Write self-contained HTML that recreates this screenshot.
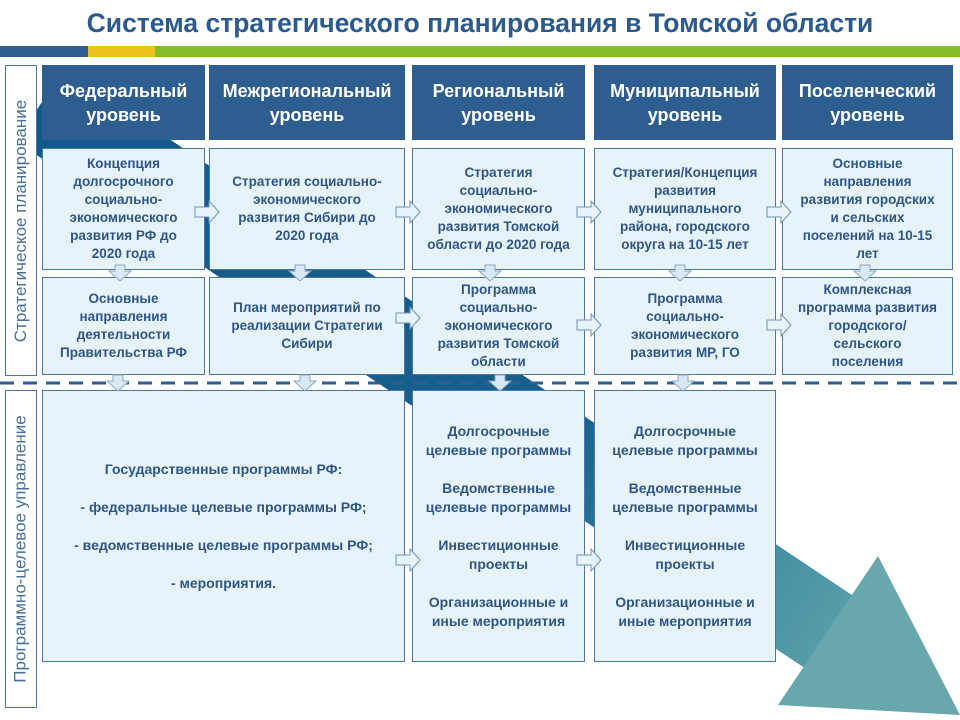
<!DOCTYPE html>
<html><head><meta charset="utf-8"><style>
body{margin:0;width:960px;height:720px;background:#fff;position:relative;overflow:hidden;font-family:"Liberation Sans",sans-serif}
.a{position:absolute;box-sizing:border-box;display:flex;align-items:center;justify-content:center;text-align:center}
.h{background:#2e5d90;color:#fff;font-weight:bold;font-size:18px;line-height:24px}
.b{background:#e6f3fb;border:1px solid #4f77a3;color:#2f5686;font-weight:bold;font-size:13.5px;line-height:18px}
.l{border:1px solid #4f77a3;color:#4a6f99;font-size:17px;background:#fff}
.l span{transform:rotate(-90deg);white-space:nowrap;display:block}
</style></head><body>
<div class="a" style="left:0;top:6px;width:960px;height:34px;color:#2c5a8c;font-weight:bold;font-size:26.5px">Система стратегического планирования в Томской области</div>
<div style="position:absolute;left:0;top:46px;width:88px;height:11px;background:#2e5d90"></div>
<div style="position:absolute;left:88px;top:46px;width:67px;height:11px;background:#ecc21c"></div>
<div style="position:absolute;left:155px;top:46px;width:805px;height:11px;background:#86bc26"></div>
<svg style="position:absolute;left:0;top:0" width="960" height="720">
<defs><linearGradient id="g" gradientUnits="userSpaceOnUse" x1="40" y1="105" x2="960" y2="715"><stop offset="0" stop-color="#0f5a8c"/><stop offset="0.55" stop-color="#185f8c"/><stop offset="0.8" stop-color="#4a94a5"/><stop offset="1" stop-color="#72aeb2"/></linearGradient></defs>
<path d="M40 105 L850 646" stroke="url(#g)" stroke-width="87" fill="none"/>
<polygon points="878,556 960,715 778,705" fill="#68a8ad"/>
<path d="M0 383 H960" stroke="#2e5d90" stroke-width="3" stroke-dasharray="14,9"/>
</svg>
<div class="a l" style="left:5px;top:65px;width:32px;height:311px"><span>Стратегическое планирование</span></div>
<div class="a l" style="left:5px;top:390px;width:32px;height:318px"><span>Программно-целевое управление</span></div>
<div class="a h" style="left:42px;top:65px;width:163px;height:75px">Федеральный<br>уровень</div>
<div class="a h" style="left:209px;top:65px;width:196px;height:75px">Межрегиональный<br>уровень</div>
<div class="a h" style="left:412px;top:65px;width:173px;height:75px">Региональный<br>уровень</div>
<div class="a h" style="left:594px;top:65px;width:182px;height:75px">Муниципальный<br>уровень</div>
<div class="a h" style="left:782px;top:65px;width:171px;height:75px">Поселенческий<br>уровень</div>
<div class="a b" style="left:42px;top:148px;width:163px;height:122px">Концепция<br>долгосрочного<br>социально-<br>экономического<br>развития РФ до<br>2020 года</div>
<div class="a b" style="left:209px;top:148px;width:196px;height:122px">Стратегия социально-<br>экономического<br>развития Сибири до<br>2020 года</div>
<div class="a b" style="left:412px;top:148px;width:173px;height:122px">Стратегия<br>социально-<br>экономического<br>развития Томской<br>области до 2020 года</div>
<div class="a b" style="left:594px;top:148px;width:182px;height:122px">Стратегия/Концепция<br>развития<br>муниципального<br>района, городского<br>округа на 10-15 лет</div>
<div class="a b" style="left:782px;top:148px;width:171px;height:122px">Основные<br>направления<br>развития городских<br>и сельских<br>поселений на 10-15<br>лет</div>
<div class="a b" style="left:42px;top:277px;width:163px;height:98px">Основные<br>направления<br>деятельности<br>Правительства РФ</div>
<div class="a b" style="left:209px;top:277px;width:196px;height:98px">План мероприятий по<br>реализации Стратегии<br>Сибири</div>
<div class="a b" style="left:412px;top:277px;width:173px;height:98px">Программа<br>социально-<br>экономического<br>развития Томской<br>области</div>
<div class="a b" style="left:594px;top:277px;width:182px;height:98px">Программа<br>социально-<br>экономического<br>развития МР, ГО</div>
<div class="a b" style="left:782px;top:277px;width:171px;height:98px">Комплексная<br>программа развития<br>городского/<br>сельского<br>поселения</div>
<div class="a b" style="left:42px;top:390px;width:363px;height:272px;line-height:38px;font-size:14px">Государственные программы РФ:<br>- федеральные целевые программы РФ;<br>- ведомственные целевые программы РФ;<br>- мероприятия.</div>
<div class="a b" style="left:412px;top:390px;width:173px;height:272px;font-size:14px;line-height:19px">Долгосрочные<br>целевые программы<br><br>Ведомственные<br>целевые программы<br><br>Инвестиционные<br>проекты<br><br>Организационные и<br>иные мероприятия</div>
<div class="a b" style="left:594px;top:390px;width:182px;height:272px;font-size:14px;line-height:19px">Долгосрочные<br>целевые программы<br><br>Ведомственные<br>целевые программы<br><br>Инвестиционные<br>проекты<br><br>Организационные и<br>иные мероприятия</div>
<svg style="position:absolute;left:0;top:0" width="960" height="720">
<defs>
<g id="r"><polygon points="-12,-5 2,-5 2,-11 12,0 2,11 2,5 -12,5" fill="#e6f3fb" stroke="#6f92b8" stroke-width="1"/></g>
<g id="d"><polygon points="-5,-8 5,-8 5,-2 11,-2 0,8 -11,-2 -5,-2" fill="#d8e8f4" stroke="#8aa8c6" stroke-width="1"/></g>
</defs>
<use href="#r" x="207" y="212"/><use href="#r" x="408" y="212"/><use href="#r" x="589" y="212"/><use href="#r" x="779" y="212"/>
<use href="#r" x="408" y="318"/><use href="#r" x="589" y="325"/><use href="#r" x="779" y="325"/>
<use href="#r" x="408" y="560"/><use href="#r" x="589" y="560"/>
<use href="#d" x="120" y="273"/><use href="#d" x="300" y="273"/><use href="#d" x="490" y="273"/><use href="#d" x="680" y="273"/><use href="#d" x="865" y="273"/>
<use href="#d" x="118" y="383"/><use href="#d" x="305" y="383"/><use href="#d" x="500" y="383"/><use href="#d" x="683" y="383"/>
</svg>
</body></html>
